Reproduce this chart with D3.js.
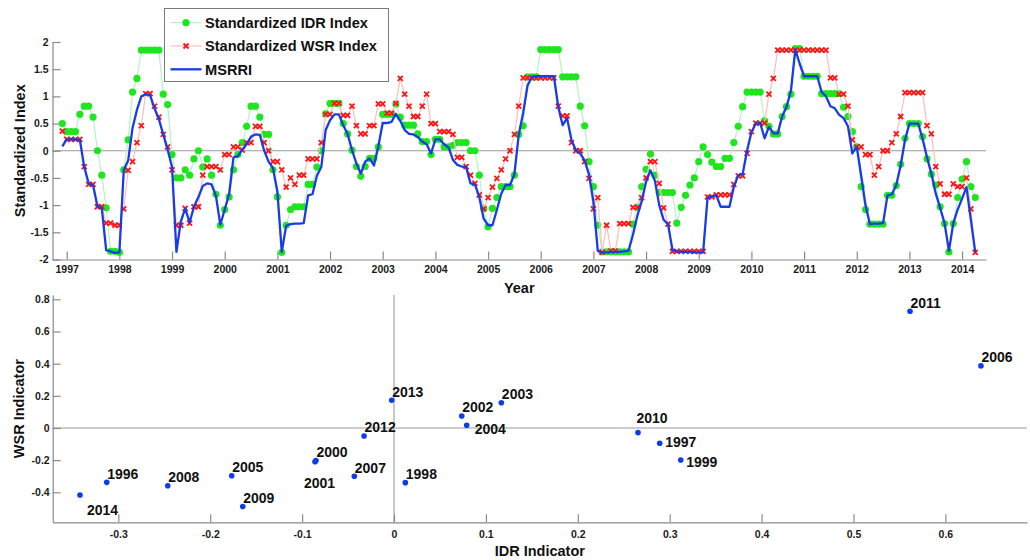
<!DOCTYPE html>
<html>
<head>
<meta charset="utf-8">
<script src="https://cdn.jsdelivr.net/npm/d3@7/dist/d3.min.js"></script>
<style>
  body { margin: 0; background: #ffffff; }
  svg { display: block; font-family: "Liberation Sans", Arial, Helvetica, sans-serif; }
</style>
</head>
<body>
<svg id="chart" width="1030" height="560"></svg>
<script>
// ---------- Monthly standardized indices, Dec 1996 .. Apr 2014 ----------
const firstMonth = { year: 1996, month: 12 };

const idrIndex = [
  0.5,
  0.35, 0.35, 0.35, 0.67, 0.82, 0.82, 0.62, 0.0, -0.45, -1.05, -1.85, -1.85,
  -1.87, -0.35, 0.2, 1.08, 1.33, 1.85, 1.85, 1.85, 1.85, 1.85, 1.04, 0.85,
  -0.07, -0.5, -0.5, -0.35, -0.45, -0.15, 0.0, -0.3, -0.15, -0.45, -0.8, -1.37,
  -1.08, -0.85, -0.35, -0.07, 0.15, 0.45, 0.82, 0.82, 0.62, 0.3, 0.3, -0.35,
  -0.85, -1.87, -1.37, -1.08, -1.03, -1.03, -1.03, -0.62, -0.62, -0.3, 0.0, 0.68,
  0.87, 0.87, 0.87, 0.5, 0.31, 0.01, -0.29, -0.47, -0.29, -0.14, -0.14, 0.07,
  0.67, 0.67, 0.67, 0.86, 0.62, 0.47, 0.47, 0.47, 0.31, 0.17, 0.17, -0.07,
  0.21, 0.21, 0.07, 0.07, 0.1, 0.15, 0.15, 0.15, 0.0, 0.0, -0.45, -1.06,
  -1.4, -1.06, -0.86, -0.66, -0.66, -0.66, -0.45, 0.3, 0.46, 1.36, 1.36, 1.36,
  1.86, 1.86, 1.86, 1.86, 1.86, 1.36, 1.36, 1.36, 1.36, 0.82, 0.46, -0.2,
  -0.66, -1.37, -1.86, -1.86, -1.86, -1.86, -1.86, -1.86, -1.86, -1.35, -1.04, -0.66,
  -0.34, -0.06, -0.45, -0.77, -0.77, -0.77, -0.77, -1.33, -1.04, -0.82, -0.63, -0.5,
  -0.2, 0.07, -0.07, -0.21, -0.29, -0.29, -0.14, -0.14, 0.15, 0.45, 0.81, 1.08,
  1.08, 1.08, 1.08, 0.55, 0.45, 0.31, 0.31, 0.63, 0.81, 1.04, 1.88, 1.88,
  1.37, 1.37, 1.37, 1.37, 1.05, 1.05, 1.05, 1.05, 1.05, 0.8, 0.63, 0.35,
  0.07, -0.66, -1.08, -1.35, -1.35, -1.35, -1.35, -0.82, -0.82, -0.64, -0.25, 0.23,
  0.5, 0.5, 0.5, 0.26, -0.15, -0.43, -0.63, -1.03, -1.34, -1.86, -1.34, -0.86,
  -0.52, -0.2, -0.66, -0.86
];

const wsrIndex = [
  0.36,
  0.21, 0.21, 0.21, 0.21, -0.29, -0.62, -0.62, -1.03, -1.03, -1.33, -1.33, -1.37,
  -1.37, -1.07, -0.36, -0.2, 0.15, 0.46, 1.05, 1.05, 0.82, 0.62, 0.3, 0.07,
  -0.35, -1.37, -1.37, -1.06, -1.33, -1.03, -1.03, -0.45, -0.29, -0.29, -0.29, -0.35,
  -0.07, -0.07, 0.07, 0.07, 0.01, 0.15, 0.15, 0.45, 0.45, 0.15, 0.0, -0.2,
  -0.2, -0.35, -0.67, -0.5, -0.62, -0.45, -0.45, -0.15, -0.15, -0.15, 0.15, 0.67,
  0.67, 0.87, 0.87, 0.65, 0.65, 0.82, 0.46, 0.31, 0.31, 0.46, 0.46, 0.86,
  0.86, 0.69, 0.69, 0.87, 1.33, 1.04, 0.82, 0.63, 0.63, 0.82, 1.04, 0.5,
  0.5, 0.35, 0.35, 0.35, 0.3, -0.12, -0.12, -0.29, -0.45, -0.6, -0.81, -1.07,
  -0.86, -0.67, -0.51, -0.35, -0.15, 0.0, 0.3, 0.82, 1.34, 1.34, 1.34, 1.34,
  1.34, 1.34, 1.34, 1.34, 0.82, 0.64, 0.64, 0.15, 0.0, 0.0, -0.2, -0.51,
  -1.07, -0.86, -1.87, -1.37, -1.84, -1.84, -1.34, -1.34, -1.34, -1.04, -1.04, -0.86,
  -0.5, -0.2, -0.2, -0.6, -1.05, -1.35, -1.85, -1.85, -1.85, -1.85, -1.85, -1.85,
  -1.85, -1.85, -0.85, -0.85, -0.81, -0.81, -0.81, -0.81, -0.62, -0.46, -0.46, -0.05,
  0.35, 0.51, 0.51, 0.51, 1.04, 1.33, 1.85, 1.85, 1.85, 1.85, 1.85, 1.85,
  1.85, 1.85, 1.85, 1.85, 1.85, 1.85, 1.34, 1.34, 1.04, 1.04, 0.82, 0.2,
  0.07, 0.07, -0.07, -0.07, -0.45, -0.29, 0.0, 0.0, 0.15, 0.31, 0.63, 1.07,
  1.07, 1.07, 1.07, 1.07, 0.46, 0.31, -0.29, -0.61, -0.8, -0.8, -0.61, -0.66,
  -0.66, -0.5, -1.07, -1.87
];

const msrri = [
  0.08,
  0.21, 0.21, 0.21, 0.2, -0.3, -0.6, -0.63, -1.02, -1.06, -1.83, -1.85, -1.88,
  -1.87, -0.36, -0.18, 0.42, 0.75, 1.0, 1.04, 1.02, 0.78, 0.58, 0.3, 0.02,
  -0.3, -1.86, -1.3, -1.06, -1.32, -1.03, -0.85, -0.65, -0.6, -0.62, -0.83, -1.36,
  -1.08, -0.8, -0.12, -0.1, 0.02, 0.12, 0.26, 0.3, 0.29, 0.0, -0.2, -0.32,
  -0.75, -1.86, -1.38, -1.35, -1.34, -1.34, -1.33, -0.82, -0.8, -0.46, -0.3, 0.38,
  0.56, 0.67, 0.67, 0.47, 0.31, 0.01, -0.23, -0.42, -0.2, -0.14, -0.27, 0.08,
  0.51, 0.51, 0.53, 0.68, 0.55, 0.38, 0.31, 0.3, 0.25, 0.17, 0.12, -0.05,
  0.21, 0.21, 0.12, 0.06, -0.17, -0.26, -0.29, -0.3, -0.6, -0.62, -0.85, -1.25,
  -1.37, -1.37, -1.09, -0.79, -0.63, -0.63, -0.43, 0.3, 0.7, 1.2, 1.36, 1.37,
  1.37, 1.37, 1.37, 1.37, 0.8, 0.47, 0.6, 0.2, 0.01, -0.05, -0.18, -0.43,
  -0.93, -1.84, -1.87, -1.87, -1.86, -1.86, -1.86, -1.85, -1.84, -1.55, -1.2, -0.93,
  -0.57, -0.36, -0.55, -1.0, -1.27, -1.35, -1.82, -1.85, -1.86, -1.86, -1.86, -1.87,
  -1.87, -1.87, -0.87, -0.84, -0.82, -1.03, -1.03, -1.03, -0.66, -0.45, -0.43, 0.0,
  0.34, 0.5, 0.51, 0.23, 0.44, 0.32, 0.32, 0.63, 0.81, 1.1, 1.86, 1.6,
  1.37, 1.37, 1.37, 1.37, 1.08, 1.0, 0.82, 0.78, 0.66, 0.6, 0.45, -0.05,
  0.07, -0.45, -1.0, -1.35, -1.34, -1.34, -1.33, -0.82, -0.8, -0.63, -0.27, 0.2,
  0.5, 0.5, 0.5, 0.22, -0.12, -0.42, -0.79, -1.05, -1.33, -1.84, -1.33, -1.08,
  -0.88, -0.67, -1.27, -1.87
];

const yearTicks = d3.range(1997, 2015);
const indexTicks = [-2, -1.5, -1, -0.5, 0, 0.5, 1, 1.5, 2];

// ---------- Annual indicators ----------
const indicatorYears = [1996, 1997, 1998, 1999, 2000, 2001, 2002, 2003, 2004, 2005,
                        2006, 2007, 2008, 2009, 2010, 2011, 2012, 2013, 2014];
const idrIndicator = [-0.3126, 0.2891, 0.0123, 0.312, -0.0849, -0.086, 0.0737, 0.1168, 0.0791, -0.1766,
                      0.6387, -0.0432, -0.2462, -0.1646, 0.2655, 0.5615, -0.0326, -0.0025, -0.3417];
const wsrIndicator = [-0.338, -0.095, -0.34, -0.199, -0.203, -0.21, 0.0746, 0.157, 0.0166, -0.297,
                      0.386, -0.3, -0.359, -0.489, -0.029, 0.726, -0.0498, 0.172, -0.417];
const idrTicks = [-0.3, -0.2, -0.1, 0, 0.1, 0.2, 0.3, 0.4, 0.5, 0.6];
const wsrTicks = [-0.4, -0.2, 0, 0.2, 0.4, 0.6, 0.8];

// ---------- Drawing ----------
const svg = d3.select("#chart");
const AXIS_GREY = "#8a8a8a";
const GREEN = "#1ee61e", GREEN_LINE = "#b4f2c4";
const RED = "#ff1414", RED_LINE = "#ffbcbc";
const BLUE = "#1a3ce6";

function styleAxis(g, fontSize) {
  g.attr("font-family", null).attr("font-size", null);
  g.select("path.domain").attr("stroke", AXIS_GREY).attr("stroke-width", 1.2);
  g.selectAll(".tick line").attr("stroke", AXIS_GREY).attr("stroke-width", 1.2);
  g.selectAll(".tick text")
    .attr("fill", "#1a1a1a")
    .style("font-size", fontSize + "px")
    .style("font-weight", "bold");
}

const fmtPlain = d => String(d);

// ===== Time series panel =====
const monthTime = idrIndex.map((_, k) => firstMonth.year + (firstMonth.month - 1 + k) / 12);

const xTime = d3.scaleLinear().domain([1996.7304, 2014.454]).range([52.5, 986]);
const yIndex = d3.scaleLinear().domain([-2, 2]).range([259.5, 42]);

const seriesPanel = svg.append("g");

// reference line at zero
seriesPanel.append("line")
  .attr("x1", xTime.range()[0]).attr("x2", xTime.range()[1])
  .attr("y1", yIndex(0)).attr("y2", yIndex(0))
  .attr("stroke", "#9a9a9a").attr("stroke-width", 1.1);

seriesPanel.append("g")
  .attr("transform", `translate(0,${yIndex.range()[0]})`)
  .call(d3.axisBottom(xTime).tickValues(yearTicks).tickFormat(d3.format("d"))
        .tickSize(-8).tickSizeOuter(0).tickPadding(6))
  .call(g => styleAxis(g, 10.5));

seriesPanel.append("g")
  .attr("transform", `translate(${xTime.range()[0]},0)`)
  .call(d3.axisLeft(yIndex).tickValues(indexTicks).tickFormat(fmtPlain)
        .tickSize(-8).tickSizeOuter(0).tickPadding(4))
  .call(g => styleAxis(g, 10.5));

const lineGen = values => d3.line()
  .x((d, k) => xTime(monthTime[k]))
  .y(d => yIndex(d))(values);

const xMark = s => `M${-s},${-s}L${s},${s}M${-s},${s}L${s},${-s}`;

// IDR index: light line with filled circles
seriesPanel.append("path").attr("d", lineGen(idrIndex))
  .attr("fill", "none").attr("stroke", GREEN_LINE).attr("stroke-width", 1.2);
seriesPanel.append("g").selectAll("circle").data(idrIndex).join("circle")
  .attr("cx", (d, k) => xTime(monthTime[k]))
  .attr("cy", d => yIndex(d))
  .attr("r", 3.6)
  .attr("fill", GREEN);

// WSR index: light line with x markers
seriesPanel.append("path").attr("d", lineGen(wsrIndex))
  .attr("fill", "none").attr("stroke", RED_LINE).attr("stroke-width", 1.2);
seriesPanel.append("g").selectAll("path").data(wsrIndex).join("path")
  .attr("transform", (d, k) => `translate(${xTime(monthTime[k])},${yIndex(d)})`)
  .attr("d", xMark(2.5))
  .attr("stroke", RED).attr("stroke-width", 1.8).attr("fill", "none");

// MSRRI line on top
seriesPanel.append("path").attr("d", lineGen(msrri))
  .attr("fill", "none").attr("stroke", BLUE).attr("stroke-width", 2.3)
  .attr("stroke-linejoin", "round");

// axis titles
seriesPanel.append("text")
  .attr("x", (xTime.range()[0] + xTime.range()[1]) / 2).attr("y", 293)
  .attr("text-anchor", "middle")
  .style("font-size", "14.5px").style("font-weight", "bold").attr("fill", "#111")
  .text("Year");
seriesPanel.append("text")
  .attr("transform", `translate(25,${(yIndex.range()[0] + yIndex.range()[1]) / 2}) rotate(-90)`)
  .attr("text-anchor", "middle")
  .style("font-size", "14.5px").style("font-weight", "bold").attr("fill", "#111")
  .text("Standardized Index");

// legend
const legend = seriesPanel.append("g").attr("transform", "translate(164.5,8.5)");
legend.append("rect").attr("width", 224).attr("height", 73)
  .attr("fill", "#ffffff").attr("stroke", "#7a7a7a").attr("stroke-width", 1);
const legendItems = [
  { label: "Standardized IDR Index", kind: "idr" },
  { label: "Standardized WSR Index", kind: "wsr" },
  { label: "MSRRI", kind: "msrri" }
];
legendItems.forEach((item, n) => {
  const ly = 14.2 + n * 23.3;
  const row = legend.append("g").attr("transform", `translate(0,${ly})`);
  const lineColor = item.kind === "idr" ? GREEN_LINE : item.kind === "wsr" ? RED_LINE : BLUE;
  row.append("line").attr("x1", 6).attr("x2", 37).attr("y1", 0).attr("y2", 0)
    .attr("stroke", lineColor).attr("stroke-width", item.kind === "msrri" ? 2.3 : 1.2);
  if (item.kind === "idr") {
    row.append("circle").attr("cx", 21.5).attr("cy", 0).attr("r", 3.6).attr("fill", GREEN);
  } else if (item.kind === "wsr") {
    row.append("path").attr("transform", "translate(21.5,0)").attr("d", xMark(2.5))
      .attr("stroke", RED).attr("stroke-width", 1.8);
  }
  row.append("text").attr("x", 40.5).attr("y", 5.3)
    .style("font-size", "14.6px").style("font-weight", "bold").attr("fill", "#111")
    .text(item.label);
});

// ===== Indicator scatter panel =====
const xInd = d3.scaleLinear().domain([-0.3714, 0.6888]).range([52.7, 1027]);
const yInd = d3.scaleLinear().domain([-0.5866, 0.827]).range([522.3, 295]);

const scatterPanel = svg.append("g");

scatterPanel.append("line")
  .attr("x1", xInd.range()[0]).attr("x2", xInd.range()[1])
  .attr("y1", yInd(0)).attr("y2", yInd(0))
  .attr("stroke", "#9a9a9a").attr("stroke-width", 1.1);
scatterPanel.append("line")
  .attr("x1", xInd(0)).attr("x2", xInd(0))
  .attr("y1", yInd.range()[0]).attr("y2", yInd.range()[1])
  .attr("stroke", "#9a9a9a").attr("stroke-width", 1.1);

scatterPanel.append("g")
  .attr("transform", `translate(0,${yInd.range()[0]})`)
  .call(d3.axisBottom(xInd).tickValues(idrTicks).tickFormat(fmtPlain)
        .tickSize(-8).tickSizeOuter(0).tickPadding(8))
  .call(g => styleAxis(g, 10.5));

scatterPanel.append("g")
  .attr("transform", `translate(${xInd.range()[0]},0)`)
  .call(d3.axisLeft(yInd).tickValues(wsrTicks).tickFormat(fmtPlain)
        .tickSize(-8).tickSizeOuter(0).tickPadding(3))
  .call(g => styleAxis(g, 10.5));

scatterPanel.append("text")
  .attr("x", (xInd.range()[0] + xInd.range()[1]) / 2).attr("y", 556)
  .attr("text-anchor", "middle")
  .style("font-size", "14.5px").style("font-weight", "bold").attr("fill", "#111")
  .text("IDR Indicator");
scatterPanel.append("text")
  .attr("transform", `translate(24,${(yInd.range()[0] + yInd.range()[1]) / 2}) rotate(-90)`)
  .attr("text-anchor", "middle")
  .style("font-size", "14.5px").style("font-weight", "bold").attr("fill", "#111")
  .text("WSR Indicator");

const points = indicatorYears.map((yr, k) => ({ yr, x: idrIndicator[k], y: wsrIndicator[k] }));

// label placement relative to each dot (default: just above and to the right)
const labelShift = {
  2014: [7, 20], 2004: [8, 9], 2001: [-11, 26], 2010: [-1.5, -10],
  1997: [5.5, 3.5], 1999: [5.5, 7]
};

scatterPanel.append("g").selectAll("circle").data(points).join("circle")
  .attr("cx", d => xInd(d.x)).attr("cy", d => yInd(d.y))
  .attr("r", 2.8).attr("fill", "#0b3cf0");

scatterPanel.append("g").selectAll("text").data(points).join("text")
  .attr("x", d => xInd(d.x) + (labelShift[d.yr] ? labelShift[d.yr][0] : 0.5))
  .attr("y", d => yInd(d.y) + (labelShift[d.yr] ? labelShift[d.yr][1] : -3.5))
  .style("font-size", "14px").style("font-weight", "bold").attr("fill", "#111")
  .text(d => d.yr);
</script>
</body>
</html>
